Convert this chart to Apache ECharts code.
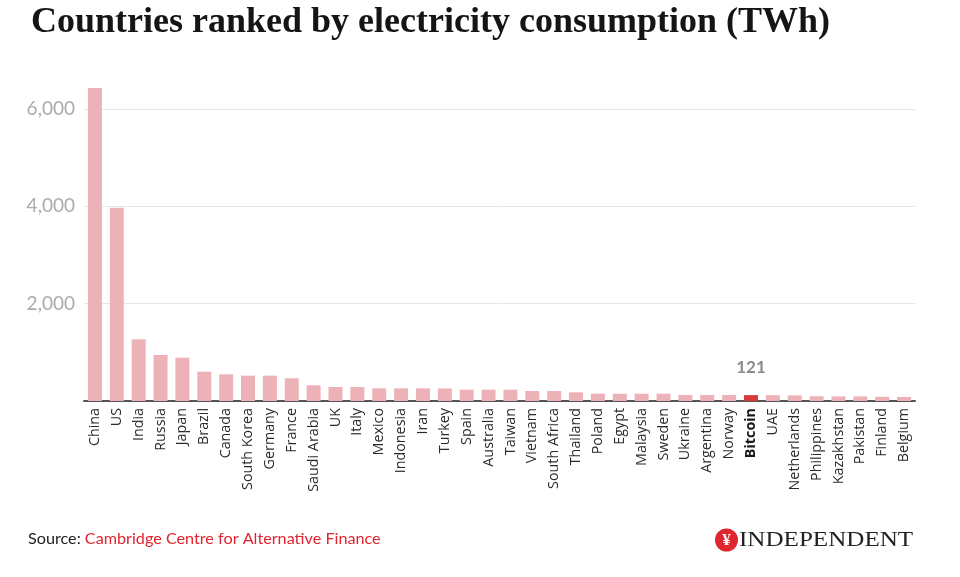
<!DOCTYPE html>
<html>
<head>
<meta charset="utf-8">
<script src="https://cdn.jsdelivr.net/npm/echarts@6/dist/echarts.min.js"></script>
<style>html,body{margin:0;padding:0;background:#fff}#c{width:960px;height:577px}</style>
</head>
<body>
<div id="c"></div>
<script>
const categories = ['China','US','India','Russia','Japan','Brazil','Canada','South Korea','Germany','France','Saudi Arabia','UK','Italy','Mexico','Indonesia','Iran','Turkey','Spain','Australia','Taiwan','Vietnam','South Africa','Thailand','Poland','Egypt','Malaysia','Sweden','Ukraine','Argentina','Norway','Bitcoin','UAE','Netherlands','Philippines','Kazakhstan','Pakistan','Finland','Belgium'];
const values = [6430,3970,1268,945,890,602,548,521,521,466,322,288,288,260,260,260,258,233,233,233,206,206,178,151,150,150,150,125,125,124,121,120,115,98,95,95,85,83];
const highlight = 'Bitcoin';
const yTicks = [0,2000,4000,6000];

const chart = echarts.init(document.getElementById('c'));
const data = values.map((v,i) => categories[i] === highlight ? {
  value: v,
  itemStyle: {color: '#d93a3a'},
  label: {show: true, position: 'top', distance: 19, formatter: '{c}', fontFamily: 'Lato', fontWeight: 'bold', fontSize: 17, color: '#8a8a8a'}
} : v);

chart.setOption({
  animation: false,
  title: {
    text: 'Countries ranked by electricity consumption (TWh)',
    left: 26, top: 0,
    textStyle: {fontFamily: 'Liberation Serif', fontWeight: 'bold', fontSize: 36, color: '#151515'}
  },
  grid: {left: 84, right: 45, top: 109, bottom: 176},
  xAxis: {
    type: 'category',
    data: categories,
    axisLine: {lineStyle: {color: '#555', width: 2}},
    axisTick: {show: false},
    axisLabel: {
      rotate: 90, interval: 0, margin: 7,
      fontFamily: 'Open Sans', fontSize: 14.3, color: '#2a2a2a',
      formatter: v => v === highlight ? '{b|' + v + '}' : v,
      rich: {b: {fontWeight: 'bold', fontFamily: 'Open Sans', fontSize: 14.3, color: '#1a1a1a'}}
    }
  },
  yAxis: {
    type: 'value', min: yTicks[0], max: yTicks[yTicks.length-1], interval: 2000,
    axisLine: {show: false}, axisTick: {show: false},
    splitLine: {lineStyle: {color: '#e6e6e6', width: 1}},
    axisLabel: {
      margin: 9, fontFamily: 'Lato', fontSize: 19, color: '#ababab',
      formatter: v => v === 0 ? '' : v.toLocaleString('en-US')
    }
  },
  series: [{
    type: 'bar', data: data, clip: false,
    barCategoryGap: '36%',
    itemStyle: {color: '#edb2b8'}
  }],
  graphic: [
    {type: 'text', left: 28, top: 531, style: {
      text: '{a|Source: }{b|Cambridge Centre for Alternative Finance}',
      rich: {a: {fontFamily: 'Lato', fontSize: 16.2, fill: '#222'}, b: {fontFamily: 'Lato', fontSize: 16.2, fill: '#e0252f'}}
    }},
    {type: 'circle', shape: {cx: 726.5, cy: 540, r: 11.5}, style: {fill: '#e0252f'}},
    {type: 'text', x: 726.5, y: 540.5, style: {text: '¥', fill: '#fff', fontFamily: 'Liberation Serif', fontWeight: 'bold', fontSize: 17, align: 'center', verticalAlign: 'middle'}},
    {type: 'text', x: 739, y: 540.5, scaleX: 1.14, style: {text: 'INDEPENDENT', fill: '#222', fontFamily: 'Liberation Serif', fontSize: 22, verticalAlign: 'middle'}}
  ]
});
</script>
</body>
</html>
